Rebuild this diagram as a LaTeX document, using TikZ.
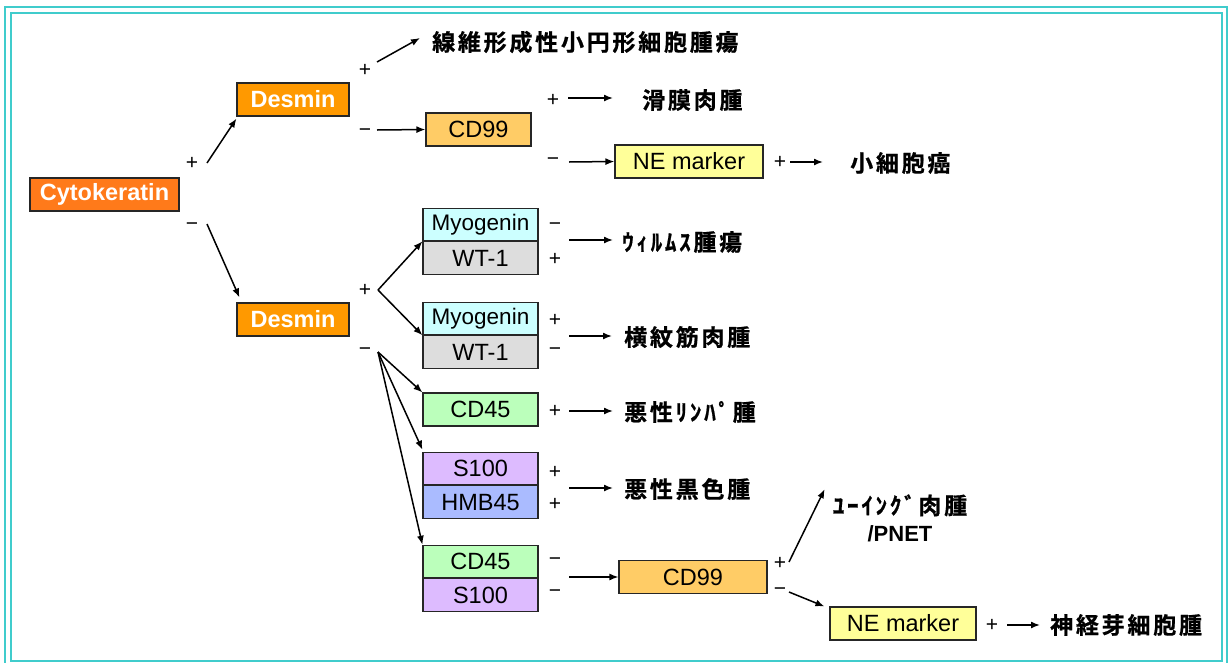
\documentclass[tikz,border=0pt]{standalone}
\usepackage{fontspec}
\setmainfont{Liberation Sans}
\newfontfamily\jp[LetterSpace=12, BoldFont={Noto Sans CJK JP Bold}, BoldFeatures={FakeBold=0.8}]{Noto Sans CJK JP}
\usetikzlibrary{arrows.meta,positioning}
\definecolor{frame}{HTML}{40CCCC}
\definecolor{ckfill}{HTML}{FF7A1A}
\definecolor{dsfill}{HTML}{FF9900}
\definecolor{cd99fill}{HTML}{FFCC66}
\definecolor{nefill}{HTML}{FFFF99}
\definecolor{myofill}{HTML}{CCFFFF}
\definecolor{wtfill}{HTML}{DDDDDD}
\definecolor{cdfill}{HTML}{BBFFBB}
\definecolor{sfill}{HTML}{DDBBFF}
\definecolor{hmbfill}{HTML}{AABBFF}
\tikzset{
  box/.style={draw=black!85, line width=1.1pt, inner sep=0pt, minimum height=33pt,
    font=\fontsize{23.5}{26}\selectfont},
  hbox/.style={box, minimum height=32.5pt},
  mbox/.style={hbox, font=\fontsize{22.5}{26}\selectfont},
  bbox/.style={box, text=white, font=\fontsize{23.5}{26}\selectfont\bfseries},
  sgn/.style={inner sep=0pt, font=\fontsize{21}{22}\selectfont},
  res/.style={inner sep=0pt, anchor=west, font=\jp\bfseries\fontsize{23}{25}\selectfont},
  arr/.style={-{Latex[length=9pt,width=7pt]}, line width=1.5pt},
}
\begin{document}
\begin{tikzpicture}[x=1pt,y=-1pt]
\useasboundingbox (0,0) rectangle (1229,662);
% frame
\draw[frame, line width=2.2pt] (5,7) rectangle (1227,668);
\draw[frame, line width=2pt] (11,13) rectangle (1222,661);

% main boxes
\node[bbox, fill=ckfill, minimum width=149pt] (ck) at (104.5,194.5) {Cytokeratin};
\node[bbox, fill=dsfill, minimum width=112pt] (ds1) at (293,99.5) {Desmin};
\node[bbox, fill=dsfill, minimum width=112pt] (ds2) at (293,319.5) {Desmin};
\node[box, fill=cd99fill, minimum width=105pt] (cd99a) at (478.5,129.5) {CD99};
\node[box, fill=nefill, minimum width=148pt] (ne1) at (689,161.5) {NE marker};

\node[mbox, fill=myofill, minimum width=115pt] (myo1) at (480.5,224.5) {Myogenin};
\node[hbox, fill=wtfill, minimum width=115pt, below=0pt of myo1] (wt1) {WT-1};
\node[mbox, fill=myofill, minimum width=115pt] (myo2) at (480.5,318.5) {Myogenin};
\node[hbox, fill=wtfill, minimum width=115pt, below=0pt of myo2] (wt2) {WT-1};
\node[box, fill=cdfill, minimum width=115pt] (cd45a) at (480.5,409.5) {CD45};
\node[hbox, fill=sfill, minimum width=115pt] (s100a) at (480.5,468.5) {S100};
\node[hbox, fill=hmbfill, minimum width=115pt, below=0pt of s100a] (hmb) {HMB45};
\node[hbox, fill=cdfill, minimum width=115pt] (cd45b) at (480.5,561.5) {CD45};
\node[hbox, fill=sfill, minimum width=115pt, below=0pt of cd45b] (s100b) {S100};
\node[box, fill=cd99fill, minimum width=148pt] (cd99b) at (693,577) {CD99};
\node[box, fill=nefill, minimum width=146pt] (ne2) at (903,623.5) {NE marker};

% results
\node[res] (fib) at (432,42) {線維形成性小円形細胞腫瘍};
\node[res] (syn) at (642,100) {滑膜肉腫};
\node[res] (scc) at (850,163) {小細胞癌};
\node[res] (wil) at (622,242) {ｳｨﾙﾑｽ腫瘍};
\node[res] (rhab) at (624,337) {横紋筋肉腫};
\node[res] (lym) at (624,412) {悪性ﾘﾝﾊﾟ腫};
\node[res] (mel) at (624,489) {悪性黒色腫};
\node[inner sep=0pt, align=center, font=\bfseries\fontsize{22}{27}\selectfont] (ew) at (900,518)
  {{\jp\bfseries\fontsize{23}{25}\selectfont ﾕｰｲﾝｸﾞ肉腫}\\/PNET};
\node[res] (nb) at (1050,625) {神経芽細胞腫};

% signs
\node[sgn] (sck1) at (192,163) {+};
\node[sgn] (sck2) at (192,227) {−};
\node[sgn] (sds1) at (365,70) {+};
\node[sgn] (sds2) at (365,133) {−};
\node[sgn] (scd1) at (553,100) {+};
\node[sgn] (scd2) at (553,162) {−};
\node[sgn] (sne1) at (780,162) {+};
\node[sgn] (sds3) at (365,290) {+};
\node[sgn] (sds4) at (365,352) {−};
\node[sgn] (sm1) at (555,227) {−};
\node[sgn] (sw1) at (555,259) {+};
\node[sgn] (sm2) at (555,320) {+};
\node[sgn] (sw2) at (555,352) {−};
\node[sgn] (sc45) at (555,411) {+};
\node[sgn] (ss1) at (555,472) {+};
\node[sgn] (sh1) at (555,504) {+};
\node[sgn] (sc45b) at (555,562) {−};
\node[sgn] (ss2) at (555,594) {−};
\node[sgn] (scb1) at (780,563) {+};
\node[sgn] (scb2) at (780,592) {−};
\node[sgn] (sne2) at (992,625) {+};

% arrow start points
\coordinate (p1) at (207,163);
\coordinate (p2) at (207,224);
\coordinate (p3) at (377,62);
\coordinate (p4) at (377,130);
\coordinate (p5) at (568,98);
\coordinate (p6) at (569,162);
\coordinate (p7) at (790,162);
\coordinate (p8) at (378,290);
\coordinate (p9) at (378,352);
\coordinate (p10) at (569,240);
\coordinate (p11) at (569,336);
\coordinate (p12) at (569,411);
\coordinate (p13) at (569,488);
\coordinate (p14) at (569,577);
\coordinate (p15) at (789,562);
\coordinate (p16) at (789,592);
\coordinate (p17) at (1007,625);

% connectors
\draw[arr] (p1) -- ([yshift=-2pt]ds1.south west);
\draw[arr] (p2) -- ([xshift=3pt,yshift=5pt]ds2.north west);
\draw[arr] (p3) -- ([xshift=-12pt,yshift=4pt]fib.west);
\draw[arr] (p4) -- (cd99a.west);
\draw[arr] (p5) -- ([xshift=-29pt,yshift=2pt]syn.west);
\draw[arr] (p6) -- (ne1.west);
\draw[arr] (p7) -- ([xshift=-27pt,yshift=1pt]scc.west);
\draw[arr] (p8) -- (myo1.south west);
\draw[arr] (p8) -- (myo2.south west);
\draw[arr] (p9) -- (cd45a.north west);
\draw[arr] (p9) -- ([yshift=2pt]s100a.north west);
\draw[arr] (p9) -- (cd45b.north west);
\draw[arr] (p10) -- ([xshift=-9pt,yshift=2pt]wil.west);
\draw[arr] (p11) -- ([xshift=-12pt,yshift=1pt]rhab.west);
\draw[arr] (p12) -- ([xshift=-11pt,yshift=1pt]lym.west);
\draw[arr] (p13) -- ([xshift=-11pt,yshift=1pt]mel.west);
\draw[arr] (p14) -- (cd99b.west);
\draw[arr] (p15) -- ([xshift=-8pt,yshift=5pt]ew.north west);
\draw[arr] (p16) -- ([xshift=-5pt]ne2.north west);
\draw[arr] (p17) -- ([xshift=-10pt]nb.west);
\end{tikzpicture}
\end{document}
